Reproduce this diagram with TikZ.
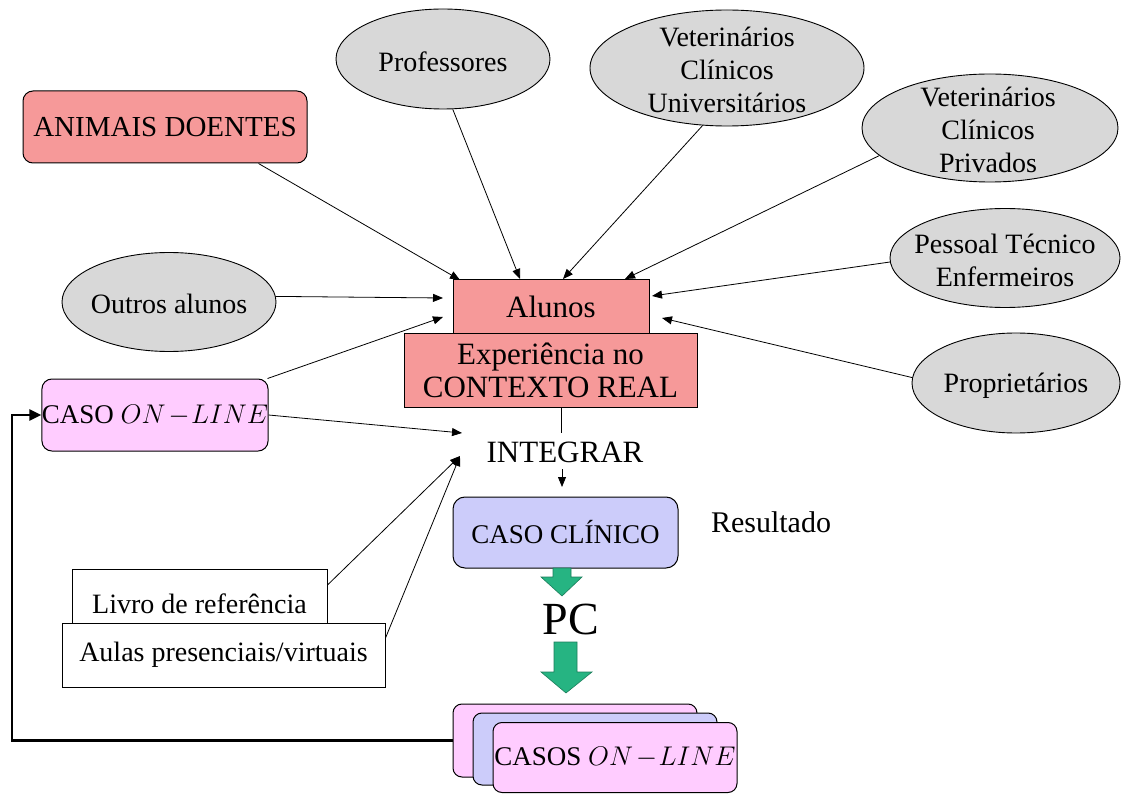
\RequirePackage{fix-cm}
\documentclass[tikz,border=0pt]{standalone}
\usepackage{fontspec}
\setmainfont{Liberation Serif}
\usetikzlibrary{shapes.geometric,arrows.meta}
\definecolor{salmon}{RGB}{246,153,153}
\definecolor{ellgray}{RGB}{216,216,216}
\definecolor{pinkbox}{RGB}{255,204,255}
\definecolor{lavbox}{RGB}{204,204,250}
\definecolor{greenarr}{RGB}{38,180,130}
\newcommand\onlinetxt{$ON\mkern2mu{-}\mkern1mu LINE$}
\tikzset{
  ell/.style={ellipse, draw=black, line width=0.9pt, fill=ellgray, inner sep=0pt},
  txt/.style={font=\fontsize{28}{33}\selectfont, align=center, inner sep=0pt},
  bigtxt/.style={font=\fontsize{31}{33}\selectfont, align=center, inner sep=0pt},
  box/.style={draw=black, line width=1pt, inner sep=0pt},
  arr/.style={line width=0.8pt, -{Triangle[length=10pt,width=8pt]}},
  greenshape/.style={fill=greenarr, draw=greenarr!70!black, line width=0.6pt},
  loopline/.style={line width=2.5pt, -{Triangle[length=12pt,width=11pt]}}
}
\begin{document}
\begin{tikzpicture}[x=1pt,y=-1pt]
\useasboundingbox[fill=white] (0,0) rectangle (1122,794);

% ellipses
\node[ell, minimum width=214pt, minimum height=100pt] (prof) at (443,59) {};
\node[txt] at (443,62) {Professores};
\node[ell, minimum width=274pt, minimum height=116pt] (vu) at (727,68) {};
\node[txt] at (727,70) {Veterinários\\Clínicos\\Universitários};
\node[ell, minimum width=256pt, minimum height=108pt] (vp) at (990,128) {};
\node[txt] at (988,130) {Veterinários\\Clínicos\\Privados};
\node[ell, minimum width=230pt, minimum height=99pt] (pt) at (1005,258) {};
\node[txt] at (1005,260) {Pessoal Técnico\\Enfermeiros};
\node[ell, minimum width=208pt, minimum height=100pt] (prop) at (1016,383) {};
\node[txt] at (1016,386) {Proprietários};
\node[ell, minimum width=214pt, minimum height=99pt] (oa) at (169,302) {};
\node[txt] at (169,304) {Outros alunos};

% boxes
\node[box, rounded corners=10pt, fill=salmon, minimum width=284pt, minimum height=72pt, font=\fontsize{29}{33}\selectfont] (anim) at (165,127) {ANIMAIS DOENTES};
\node[box, fill=salmon, minimum width=196pt, minimum height=54pt, bigtxt] (alu) at (551,307) {Alunos};
\node[box, fill=salmon, minimum width=293pt, minimum height=73pt, bigtxt] (exp) at (550.5,370.5) {Experiência no\\CONTEXTO REAL};
\node[box, rounded corners=10pt, fill=pinkbox, minimum width=226pt, minimum height=72pt, font=\fontsize{27}{30}\selectfont] (col) at (155,415) {CASO \onlinetxt};
\node[bigtxt] (integ) at (565,452) {INTEGRAR};
\node[box, rounded corners=12pt, fill=lavbox, minimum width=225pt, minimum height=71pt, font=\fontsize{27}{30}\selectfont] (clin) at (565.5,532.5) {CASO CLÍNICO};
\node[bigtxt, font=\fontsize{30}{33}\selectfont] (res) at (771,522) {Resultado};
\node[inner sep=0pt, font=\fontsize{46}{50}\selectfont] (pc) at (571,619) {PC};

\node[box, fill=white, minimum width=255pt, minimum height=54pt] (livro) at (199.5,596) {};
\node[txt] at (199.5,604) {Livro de referência};
\node[box, fill=white, minimum width=323pt, minimum height=64pt, txt] (aulas) at (223.5,655) {Aulas presenciais/virtuais};

% stack
\node[box, rounded corners=9pt, fill=pinkbox, minimum width=244pt, minimum height=73pt] (bk) at (575,740.5) {};
\node[box, rounded corners=9pt, fill=lavbox, minimum width=244pt, minimum height=72pt] (md) at (595,749) {};
\node[box, rounded corners=9pt, fill=pinkbox, minimum width=244pt, minimum height=70pt, font=\fontsize{27}{30}\selectfont] (fr) at (615,757.5) {CASOS \onlinetxt};

% green arrows
\fill[greenshape] (553,568) -- (571,568) -- (571,577) -- (582,577) -- (562,596) -- (541,577) -- (553,577) -- cycle;
\fill[greenshape] (554,642) -- (577,642) -- (577,672) -- (592,672) -- (566,693) -- (541,672) -- (554,672) -- cycle;

% connector end points
\coordinate (e1) at (460,280);
\coordinate (e2) at (520,279);
\coordinate (e3) at (563,279);
\coordinate (e4) at (625,279);
\coordinate (e5) at (652,296);
\coordinate (e6) at (662,318);
\coordinate (e7) at (443,298);
\coordinate (e8) at (443,317);
\coordinate (e9) at (462,433);
\coordinate (e10) at (460,456);
\coordinate (e11) at (561,433);
\coordinate (e12) at (562,469);
\coordinate (e13) at (562,487);
\coordinate (lp) at (12,740.5);

\draw[arr] ([xshift=-49pt]anim.south east) -- (e1);
\draw[arr] (prof.-79) -- (e2);
\draw[arr] (vu.-113) -- (e3);
\draw[arr] (vp.-166) -- (e4);
\draw[arr] (pt.-178) -- (e5);
\draw[arr] (prop.177) -- (e6);
\draw[arr] (oa.3) -- (e7);
\draw[arr] ([xshift=-1pt]col.north east) -- (e8);
\draw[arr] (col.east) -- (e9);
\draw[arr] ([yshift=11pt]livro.east) -- (e10);
\draw[arr] ([yshift=17pt]aulas.east) -- (e10);
\draw[line width=0.8pt] ([xshift=10.5pt]exp.south) -- (e11);
\draw[arr] (e12) -- (e13);
\draw[loopline] (bk.west) -- (lp) |- (col.west);
\end{tikzpicture}
\end{document}
